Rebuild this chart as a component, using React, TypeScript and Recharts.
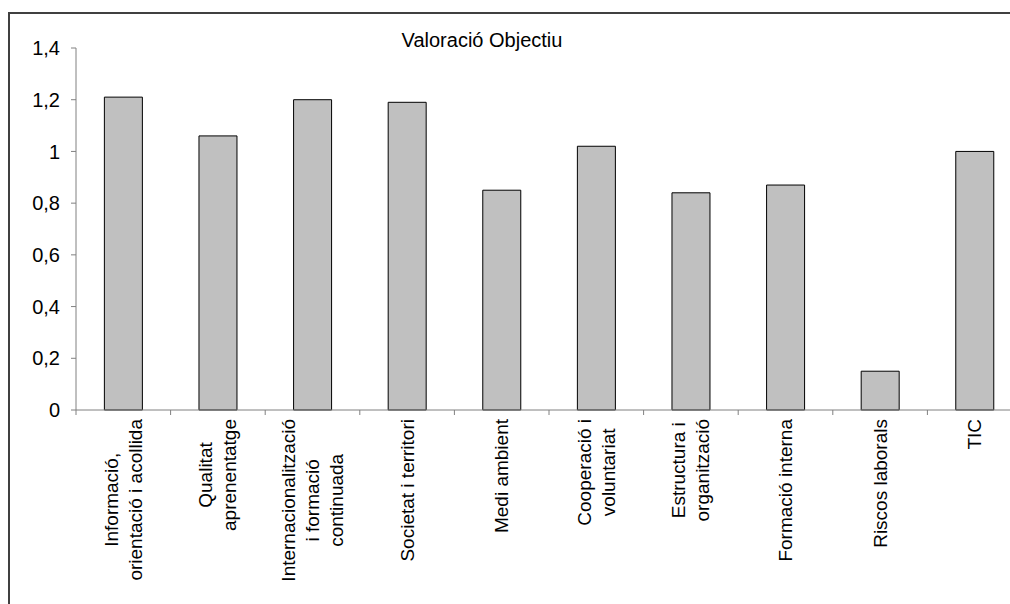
import { BarChart, Bar, XAxis, YAxis } from 'recharts';

// Valoració per objectiu
const categoryLines: string[][] = [
  ['Informació,', 'orientació i acollida'],
  ['Qualitat', 'aprenentatge'],
  ['Internacionalització', 'i formació', 'continuada'],
  ['Societat i territori'],
  ['Medi ambient'],
  ['Cooperació i', 'voluntariat'],
  ['Estructura i', 'organització'],
  ['Formació interna'],
  ['Riscos laborals'],
  ['TIC'],
];

const values = [1.21, 1.06, 1.2, 1.19, 0.85, 1.02, 0.84, 0.87, 0.15, 1.0];

const yTicks = [0, 0.2, 0.4, 0.6, 0.8, 1, 1.2, 1.4];

const title = 'Valoració Objectiu';

const data = categoryLines.map((lines, i) => ({ name: lines.join('\n'), value: values[i] }));

const FONT = '"Liberation Sans", Arial, sans-serif';
const LABEL_SIZE = 19;
const LINE_H = 24;

let ctx: CanvasRenderingContext2D | null = null;
function textWidth(s: string) {
  if (!ctx) ctx = document.createElement('canvas').getContext('2d');
  if (!ctx) return s.length * LABEL_SIZE * 0.5;
  ctx.font = `${LABEL_SIZE}px "Liberation Sans"`;
  return ctx.measureText(s).width;
}

function CategoryTick(props: any) {
  const { x, y, payload, width, visibleTicksCount } = props;
  const band = width / (visibleTicksCount || categoryLines.length);
  const lines: string[] = String(payload.value).split('\n');
  const blockW = Math.max(...lines.map(textWidth));
  const cy = y + 9 + blockW / 2;
  const bx = x - band / 2;
  return (
    <g>
      <line x1={bx} y1={y} x2={bx} y2={y + 5} stroke="#808080" />
      {lines.map((l, i) => {
        const lx = x + (i - (lines.length - 1) / 2) * LINE_H;
        return (
          <text
            key={i}
            x={lx}
            y={cy}
            transform={`rotate(-90 ${lx} ${cy})`}
            textAnchor="middle"
            dominantBaseline="central"
            fontSize={LABEL_SIZE}
            fontFamily={FONT}
            fill="#000"
          >
            {l}
          </text>
        );
      })}
    </g>
  );
}

export default function App() {
  return (
    <div style={{ position: 'fixed', left: 0, top: 0, width: 1010, height: 604, overflow: 'hidden', background: '#fff' }}>
      <div
        style={{
          position: 'absolute',
          left: 8,
          top: 12,
          width: 1100,
          height: 700,
          border: '2px solid #404040',
          boxSizing: 'border-box',
        }}
      />
      <div
        style={{
          position: 'absolute',
          left: 0,
          top: 29,
          width: 964,
          textAlign: 'center',
          fontFamily: FONT,
          fontSize: 20,
          lineHeight: '23px',
          color: '#000',
        }}
      >
        {title}
      </div>
      <div style={{ position: 'absolute', left: 0, top: 0 }}>
        <BarChart
          width={1030}
          height={604}
          data={data}
          margin={{ top: 48, right: 8, bottom: 0, left: 0 }}
          barCategoryGap="30%"
        >
          <XAxis
            dataKey="name"
            height={194}
            interval={0}
            tickLine={false}
            tickSize={0}
            tickMargin={0}
            axisLine={{ stroke: '#808080' }}
            tick={<CategoryTick />}
          />
          <YAxis
            width={76}
            domain={[0, 1.4]}
            ticks={yTicks}
            interval={0}
            tickSize={5}
            tickMargin={11}
            axisLine={{ stroke: '#808080' }}
            tickLine={{ stroke: '#808080' }}
            tick={{ fill: '#000', fontSize: 20, fontFamily: FONT }}
            tickFormatter={(v: number) => String(v).replace('.', ',')}
          />
          <Bar dataKey="value" fill="#C0C0C0" stroke="#000" strokeWidth={1} isAnimationActive={false} />
        </BarChart>
      </div>
    </div>
  );
}
